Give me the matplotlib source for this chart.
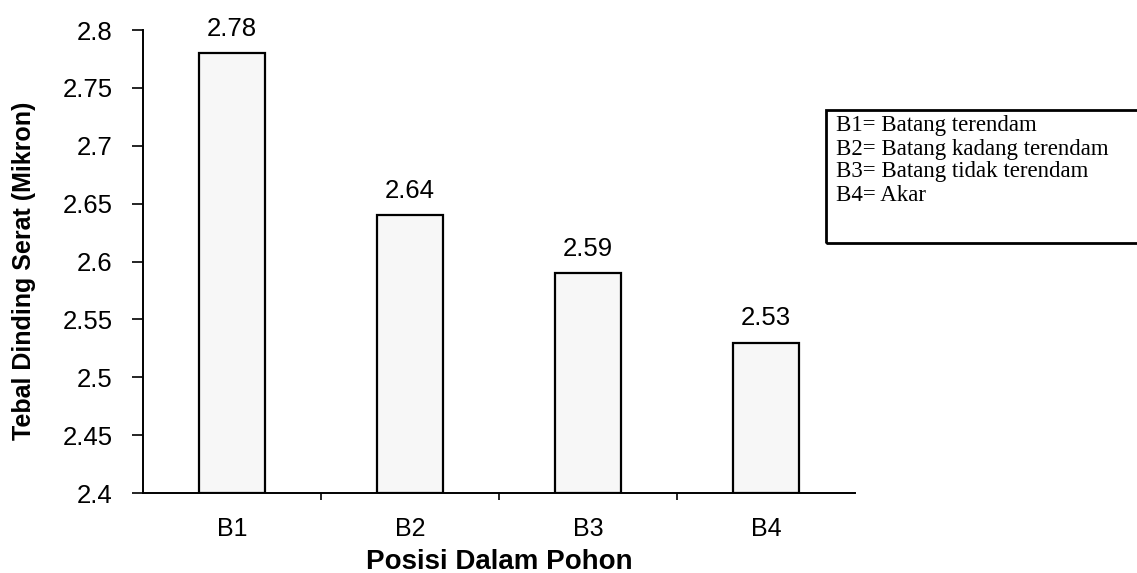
import matplotlib.pyplot as plt
import matplotlib.patches as mpatches
import numpy as np

# data
posisi = ["B1", "B2", "B3", "B4"]
tebal = [2.78, 2.64, 2.59, 2.53]
keterangan = ["B1= Batang terendam",
              "B2= Batang kadang terendam",
              "B3= Batang tidak terendam",
              "B4= Akar"]

plt.rcParams['font.family'] = ['Liberation Sans', 'DejaVu Sans']

fig = plt.figure(figsize=(11.37, 5.73), dpi=100)
ax = fig.add_axes([0.1258, 0.1396, 0.752 - 0.1258, 0.9476 - 0.1396])

x = np.arange(len(posisi))
ax.bar(x, np.array(tebal) - 2.4, bottom=2.4, width=0.37, color="#f7f7f7",
       edgecolor="black", linewidth=1.6)

# nilai di atas batang
for xi, v in zip(x, tebal):
    ax.annotate("%.2f" % v, (xi, v), xytext=(0, 9), textcoords="offset points",
                ha="center", va="bottom", fontsize=18.5)

ax.set_xlim(-0.5, len(posisi) - 0.5)
ax.set_ylim(2.4, 2.8)
ax.set_yticks(np.arange(2.4, 2.81, 0.05))
ax.set_yticklabels(["2.4", "2.45", "2.5", "2.55", "2.6", "2.65", "2.7", "2.75", "2.8"])
ax.set_xticks(x)
ax.set_xticklabels(posisi)
ax.set_xticks(x[:-1] + 0.5, minor=True)
ax.tick_params(axis="x", which="major", length=0, pad=17, labelsize=18)
ax.tick_params(axis="x", which="minor", length=5, width=1.2, direction="out")
ax.tick_params(axis="y", length=8, width=1.2, pad=14, labelsize=18.5)

for s in ["top", "right"]:
    ax.spines[s].set_visible(False)
for s in ["left", "bottom"]:
    ax.spines[s].set_linewidth(1.4)

ax.set_xlabel("Posisi Dalam Pohon", fontsize=20, fontweight="bold", labelpad=6)
ax.set_ylabel("Tebal Dinding Serat (Mikron)", fontsize=18, fontweight="bold")
ax.yaxis.set_label_coords(-0.15, 0.48)

# kotak keterangan
W, H = 1137.0, 573.0
box = mpatches.Rectangle((826 / W, 1 - 243 / H), 320 / W, 133 / H,
                         transform=fig.transFigure, fill=False,
                         edgecolor="black", linewidth=2, clip_on=False)
fig.patches.append(box)
for i, t in enumerate(keterangan):
    fig.text(836 / W, 1 - (126 + 23 * i) / H, t, fontsize=16.5,
             family=["Liberation Serif", "DejaVu Serif"], va="center", ha="left")

fig.savefig("out.png", dpi=100)
